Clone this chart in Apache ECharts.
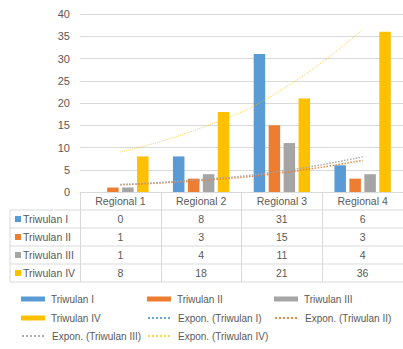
<!DOCTYPE html>
<html>
<head>
<meta charset="utf-8">
<script src="https://cdn.jsdelivr.net/npm/echarts@6/dist/echarts.min.js"></script>
<style>
  html, body { margin: 0; padding: 0; background: #fff; }
  #main { width: 403px; height: 349px; }
</style>
</head>
<body>
<div id="main"></div>
<script>
// data
var regions = ['Regional 1', 'Regional 2', 'Regional 3', 'Regional 4'];
var seriesNames = ['Triwulan I', 'Triwulan II', 'Triwulan III', 'Triwulan IV'];
var triwulan1 = [0, 8, 31, 6];
var triwulan2 = [1, 3, 15, 3];
var triwulan3 = [1, 4, 11, 4];
var triwulan4 = [8, 18, 21, 36];
// exponential trendlines at each region
var trend1 = [];
var trend2 = [1.6, 2.6, 4.3, 7.1];
var trend3 = [1.7, 2.8, 4.7, 7.9];
var trend4 = [9, 14.4, 23, 36.5];
var yMin = 0, yMax = 40, yStep = 5;

var colors = ['#5B9BD5', '#ED7D31', '#A5A5A5', '#FFC000'];
var txt = '#595959', line = '#D9D9D9';
var font = 'Liberation Sans, Arial, sans-serif';
var values = [triwulan1, triwulan2, triwulan3, triwulan4];
var trends = [trend1, trend2, trend3, trend4];

var chart = echarts.init(document.getElementById('main'), null, {renderer: 'svg'});

var series = [];
seriesNames.forEach(function(n, i){
  series.push({
    name: n, type: 'bar', data: values[i],
    barWidth: 11.5, barGap: '30%',
    itemStyle: {color: colors[i]}
  });
});
seriesNames.forEach(function(n, i){
  series.push({
    name: 'Expon. (' + n + ')', type: 'line', data: trends[i],
    smooth: true, symbol: 'none', silent: true,
    lineStyle: {color: colors[i], width: i == 3 ? 1 : 1.5, type: 'dotted', opacity: i == 3 ? 0.7 : 0.9},
    itemStyle: {color: colors[i]}
  });
});

// legends, one per item, laid out as a 3-column grid
var legendNames = [];
seriesNames.forEach(function(n){ legendNames.push(n); });
seriesNames.forEach(function(n){ legendNames.push('Expon. (' + n + ')'); });
var legCols = [21, 147, 274], legRows = [294, 313, 331];
var legends = legendNames.map(function(n, k){
  var isBar = k < 4;
  var leg = {
    data: [n], left: legCols[k % 3], top: legRows[Math.floor(k / 3)],
    padding: 0, itemWidth: 24, itemHeight: isBar ? 5 : 12,
    selectedMode: false,
    textStyle: {color: txt, fontSize: 10, fontFamily: font, padding: [0, 0, 0, 1]}
  };
  if (isBar) leg.icon = 'rect';
  else leg.itemStyle = {opacity: 0};
  return leg;
});

// data table lines and row headers
var graphic = [];
for (var r = 0; r < 5; r++) {
  graphic.push({type: 'line', silent: true,
    shape: {x1: 10, y1: 210 + r * 18, x2: 403, y2: 210 + r * 18},
    style: {stroke: line, lineWidth: 1}});
}
graphic.push({type: 'line', silent: true, shape: {x1: 10, y1: 210, x2: 10, y2: 282},
  style: {stroke: line, lineWidth: 1}});
seriesNames.forEach(function(n, i){
  var cy = 219 + i * 18;
  graphic.push({type: 'rect', silent: true, shape: {x: 15, y: cy - 3, width: 6, height: 6},
    style: {fill: colors[i]}});
  graphic.push({type: 'text', silent: true, x: 23, y: cy,
    style: {text: n, fill: txt, font: '10.5px ' + font, verticalAlign: 'middle'}});
});

chart.setOption({
  backgroundColor: '#fff',
  animation: false,
  textStyle: {fontFamily: font},
  grid: {left: 80, right: -6, top: 14, bottom: 157, containLabel: false},
  legend: legends,
  xAxis: {
    type: 'category', data: regions,
    axisLine: {show: true, lineStyle: {color: line}},
    axisTick: {show: true, interval: 0, length: 90, lineStyle: {color: line}},
    axisLabel: {
      interval: 0, margin: 0, color: txt, fontSize: 10.5, lineHeight: 18,
      formatter: function(v, idx){
        return [v, triwulan1[idx], triwulan2[idx], triwulan3[idx], triwulan4[idx]].join('\n');
      }
    }
  },
  yAxis: {
    type: 'value', min: yMin, max: yMax, interval: yStep,
    axisLine: {show: false}, axisTick: {show: false},
    axisLabel: {color: txt, fontSize: 11, margin: 10},
    splitLine: {lineStyle: {color: line}}
  },
  graphic: graphic,
  series: series
});
</script>
</body>
</html>
